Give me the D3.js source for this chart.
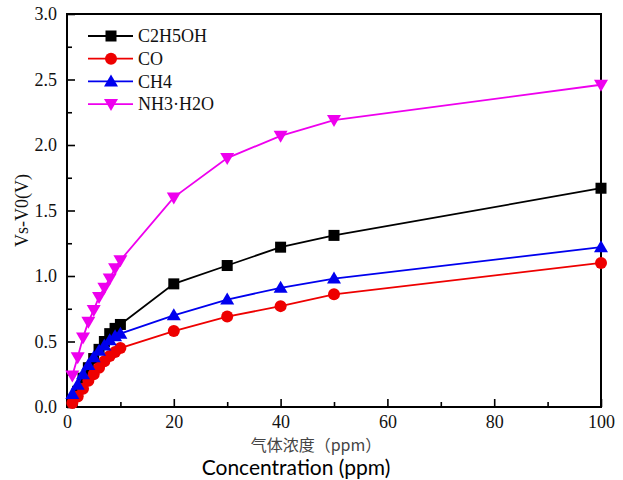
<!DOCTYPE html>
<html>
<head>
<meta charset="utf-8">
<script src="https://cdn.jsdelivr.net/npm/d3@7"></script>
<style>
  body { margin: 0; background: #fff; }
  svg { display: block; }
  .serif { font-family: "Liberation Serif", "Times New Roman", serif; }
</style>
</head>
<body>
<div id="chart"></div>
<script>
// gas concentration (ppm)
const concentration = [1, 2, 3, 4, 5, 6, 7, 8, 9, 10, 20, 30, 40, 50, 100];

const c2h5oh = [0.05, 0.12, 0.22, 0.30, 0.37, 0.44, 0.50, 0.56, 0.60, 0.63, 0.94, 1.08, 1.22, 1.31, 1.67];
const co     = [0.03, 0.08, 0.14, 0.20, 0.25, 0.30, 0.35, 0.39, 0.42, 0.45, 0.58, 0.69, 0.77, 0.86, 1.10];
const ch4    = [0.10, 0.17, 0.25, 0.32, 0.38, 0.43, 0.47, 0.51, 0.54, 0.56, 0.70, 0.82, 0.91, 0.98, 1.22];
const nh3    = [0.24, 0.38, 0.53, 0.65, 0.74, 0.84, 0.91, 0.98, 1.06, 1.12, 1.60, 1.90, 2.07, 2.19, 2.46];

const seriesNames = ["C2H5OH", "CO", "CH4", "NH3·H2O"];
const seriesColors = ["#000000", "#ee0000", "#0000ee", "#ee00ee"];
const seriesSymbols = ["square", "circle", "up", "down"];

const xTicks = [0, 20, 40, 60, 80, 100];
const yTicks = [0, 0.5, 1.0, 1.5, 2.0, 2.5, 3.0];

const W = 623, H = 480;
const margin = { top: 14, right: 22, bottom: 73, left: 67 };
const w = W - margin.left - margin.right;
const h = H - margin.top - margin.bottom;

const svg = d3.select("#chart").append("svg")
  .attr("width", W).attr("height", H);

const g = svg.append("g")
  .attr("transform", `translate(${margin.left},${margin.top})`);

const x = d3.scaleLinear().domain([0, 100]).range([0, w]);
const y = d3.scaleLinear().domain([0, 3]).range([h, 0]);

// Axes: ticks point inward
const xAxis = d3.axisBottom(x).tickValues(xTicks).tickSizeInner(-8).tickSizeOuter(0).tickPadding(8)
  .tickFormat(d3.format("d"));
const xMinor = d3.axisBottom(x).tickValues(d3.range(10, 100, 20)).tickSizeInner(-5).tickSizeOuter(0).tickFormat("");
const yAxis = d3.axisLeft(y).tickValues(yTicks).tickSizeInner(-8).tickSizeOuter(0).tickPadding(10)
  .tickFormat(d3.format(".1f"));
const yMinor = d3.axisLeft(y).tickValues(d3.range(0.25, 3, 0.5)).tickSizeInner(-5).tickSizeOuter(0).tickFormat("");

g.append("g").attr("transform", `translate(0,${h})`).call(xMinor);
g.append("g").call(yMinor);
const xg = g.append("g").attr("transform", `translate(0,${h})`).call(xAxis);
const yg = g.append("g").call(yAxis);

g.selectAll(".domain").remove();
g.selectAll(".tick line").attr("stroke", "#000").attr("stroke-width", 1.6);
[xg, yg].forEach(a => {
  a.attr("font-family", null);
  a.selectAll("text").attr("class", "serif").attr("font-size", 18).attr("fill", "#111");
});

// Frame
g.append("rect")
  .attr("x", 0).attr("y", 0).attr("width", w).attr("height", h)
  .attr("fill", "none").attr("stroke", "#000").attr("stroke-width", 2);

// Series
const allSeries = [c2h5oh, co, ch4, nh3];
const line = d3.line().x((d, i) => x(concentration[i])).y(d => y(d));

function marker(sel, type, color) {
  if (type === "square") {
    sel.append("rect").attr("x", -5.5).attr("y", -5.5).attr("width", 11).attr("height", 11).attr("fill", color);
  } else if (type === "circle") {
    sel.append("circle").attr("r", 6).attr("fill", color);
  } else if (type === "up") {
    sel.append("path").attr("d", "M0,-7L7,5L-7,5Z").attr("fill", color);
  } else {
    sel.append("path").attr("d", "M0,7L7,-5L-7,-5Z").attr("fill", color);
  }
}

allSeries.forEach((vals, k) => {
  const sg = g.append("g");
  sg.append("path").datum(vals)
    .attr("d", line).attr("fill", "none")
    .attr("stroke", seriesColors[k]).attr("stroke-width", 1.8);
  sg.selectAll("g.pt").data(vals).join("g")
    .attr("class", "pt")
    .attr("transform", (d, i) => `translate(${x(concentration[i])},${y(d)})`)
    .each(function () { marker(d3.select(this), seriesSymbols[k], seriesColors[k]); });
});

// Legend
const legend = svg.append("g").attr("transform", "translate(88,36)");
seriesNames.forEach((name, k) => {
  const row = legend.append("g").attr("transform", `translate(0,${k * 22.7})`);
  row.append("line").attr("x1", 0).attr("x2", 45).attr("y1", 0).attr("y2", 0)
    .attr("stroke", seriesColors[k]).attr("stroke-width", 1.8);
  const m = row.append("g").attr("transform", "translate(23,0)");
  marker(m, seriesSymbols[k], seriesColors[k]);
  row.append("text").attr("class", "serif").attr("x", 50).attr("y", 0).attr("dy", "0.35em")
    .attr("font-size", 18).attr("fill", "#111")
    .text(name);
});

// Axis titles
svg.append("text")
  .attr("x", 316).attr("y", 451)
  .attr("text-anchor", "middle")
  .style("font-family", "'Noto Sans CJK SC', sans-serif").attr("font-size", 16).attr("fill", "#444")
  .text("气体浓度（ppm）");

svg.append("text")
  .attr("x", 296).attr("y", 475)
  .attr("text-anchor", "middle")
  .style("font-family", "Lato, 'Open Sans', sans-serif").attr("font-size", 21).attr("fill", "#000")
  .text("Concentration (ppm)");

svg.append("text")
  .attr("class", "serif")
  .attr("transform", `translate(28,${margin.top + h / 2}) rotate(-90)`)
  .attr("text-anchor", "middle")
  .attr("font-size", 18).attr("fill", "#111")
  .text("Vs-V0(V)");
</script>
</body>
</html>
